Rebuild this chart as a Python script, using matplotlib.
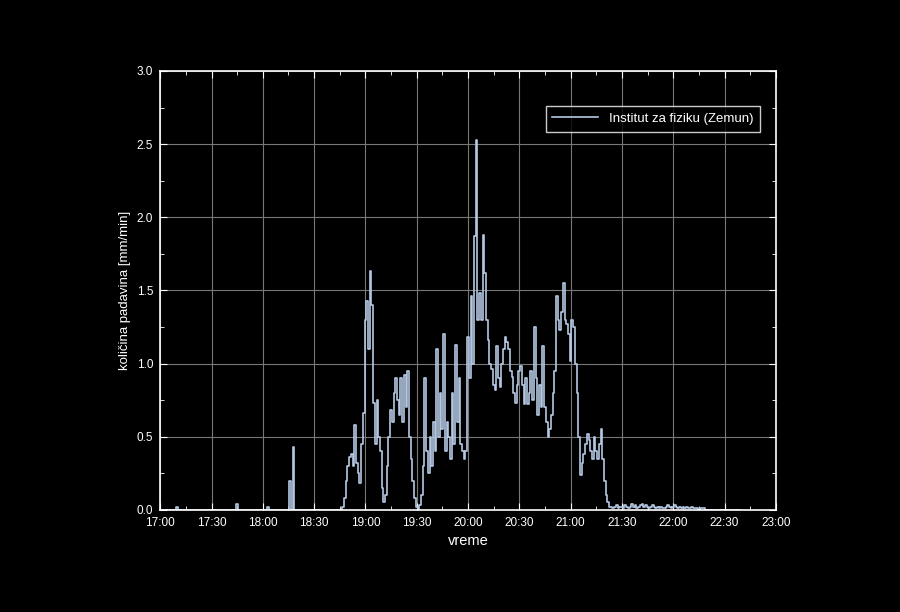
import matplotlib.pyplot as plt
import numpy as np

plt.rcParams["font.family"] = ["Liberation Sans", "DejaVu Sans"]

# minutes after 17:00 -> rainfall intensity [mm/min]
early_minutes = [10, 45, 63, 76, 78]
early_rain = [0.02, 0.04, 0.02, 0.2, 0.43]

storm_start = 107
storm_rain = [
    0.02, 0.08, 0.2, 0.3, 0.36, 0.38, 0.3, 0.58, 0.32, 0.25,
    0.18, 0.45, 0.66, 1.3, 1.43, 1.1, 1.63, 1.4, 0.73, 0.45,
    0.75, 0.5, 0.4, 0.15, 0.05, 0.1, 0.3, 0.5, 0.68, 0.6,
    0.8, 0.9, 0.75, 0.65, 0.9, 0.6, 0.92, 0.7, 0.95, 0.5,
    0.35, 0.2, 0.08, 0.02, 0.0, 0.03, 0.1, 0.3, 0.9, 0.4,
    0.25, 0.5, 0.3, 0.6, 0.4, 1.1, 0.5, 0.8, 0.55, 1.2,
    0.4, 0.6, 0.5, 0.35, 0.8, 0.45, 1.13, 0.6, 0.9, 0.45,
    0.4, 0.35, 0.4, 1.18, 0.9, 1.46, 1.0, 1.87, 2.53, 1.3,
    1.48, 1.3, 1.88, 1.62, 1.3, 1.16, 1.0, 0.96, 0.85, 0.82,
    1.12, 0.9, 0.84, 1.0, 1.1, 1.18, 1.15, 1.1, 0.95, 0.91,
    0.8, 0.73, 0.85, 0.95, 0.98, 0.85, 0.72, 0.9, 0.72, 0.8,
    0.95, 0.75, 1.25, 0.9, 0.65, 0.85, 0.7, 1.12, 0.7, 0.6,
    0.5, 0.55, 0.65, 0.8, 0.95, 1.46, 1.3, 1.23, 1.35, 1.55,
    1.3, 1.27, 1.2, 1.02, 1.3, 1.25, 1.0, 0.8, 0.5, 0.24,
    0.32, 0.38, 0.45, 0.52, 0.48, 0.4, 0.35, 0.5, 0.4, 0.35,
    0.45, 0.55, 0.35, 0.2, 0.1, 0.05, 0.02, 0.02, 0.01, 0.02,
    0.03, 0.01, 0.02, 0.02, 0.01, 0.03, 0.02, 0.01, 0.02, 0.04,
    0.02, 0.03, 0.01, 0.02, 0.03, 0.04, 0.02, 0.03, 0.02, 0.01,
    0.02, 0.03, 0.02, 0.01, 0.02, 0.01, 0.02, 0.01, 0.01, 0.02,
    0.03, 0.02, 0.01, 0.02, 0.03, 0.02, 0.01, 0.02, 0.01, 0.02,
    0.01, 0.02, 0.01, 0.01, 0.02, 0.01, 0.01, 0.01, 0.0, 0.01,
    0.01, 0.01, 0.0,
]

tick_labels = ["17:00", "17:30", "18:00", "18:30", "19:00", "19:30", "20:00",
               "20:30", "21:00", "21:30", "22:00", "22:30", "23:00"]

rain = np.zeros(340)
rain[early_minutes] = early_rain
rain[storm_start:storm_start + len(storm_rain)] = storm_rain
minutes = np.arange(len(rain))

fg = "white"
fig = plt.figure(figsize=(9, 6.12), dpi=100, facecolor="black")
ax = fig.add_axes([0.178, 0.167, 0.684, 0.717], facecolor="black")
ax.plot(minutes, rain, drawstyle="steps-mid", color="#b4c8e4", linewidth=1.2,
        label="Institut za fiziku (Zemun)")

ax.set_xlim(0, 360)
ax.set_ylim(0, 3.0)
ax.set_xticks(np.arange(0, 361, 30))
ax.set_xticklabels(tick_labels)
ax.set_xticks(np.arange(0, 361, 15), minor=True)
ax.set_yticks(np.arange(0, 3.01, 0.5))
ax.set_yticks(np.arange(0, 3.01, 0.25), minor=True)
ax.grid(True, color="#777777", linewidth=0.8)

for s in ax.spines.values():
    s.set_color(fg)
    s.set_linewidth(1.2)
ax.tick_params(which="both", direction="in", colors=fg, top=True, right=True,
               labelsize=8.5, pad=5)
ax.tick_params(which="major", length=5)
ax.tick_params(which="minor", length=3)
ax.set_xlabel("vreme", color=fg, fontsize=10.5)
ax.set_ylabel("količina padavina [mm/min]", color=fg, fontsize=9.5)

leg = ax.legend(loc="upper right", bbox_to_anchor=(0.985, 0.935), fontsize=9.5,
                facecolor="black", edgecolor=fg, fancybox=False,
                labelcolor=fg, borderpad=0.5, handlelength=3.5)
leg.get_frame().set_linewidth(1.0)

fig.savefig("out.png", dpi=100, facecolor="black")
